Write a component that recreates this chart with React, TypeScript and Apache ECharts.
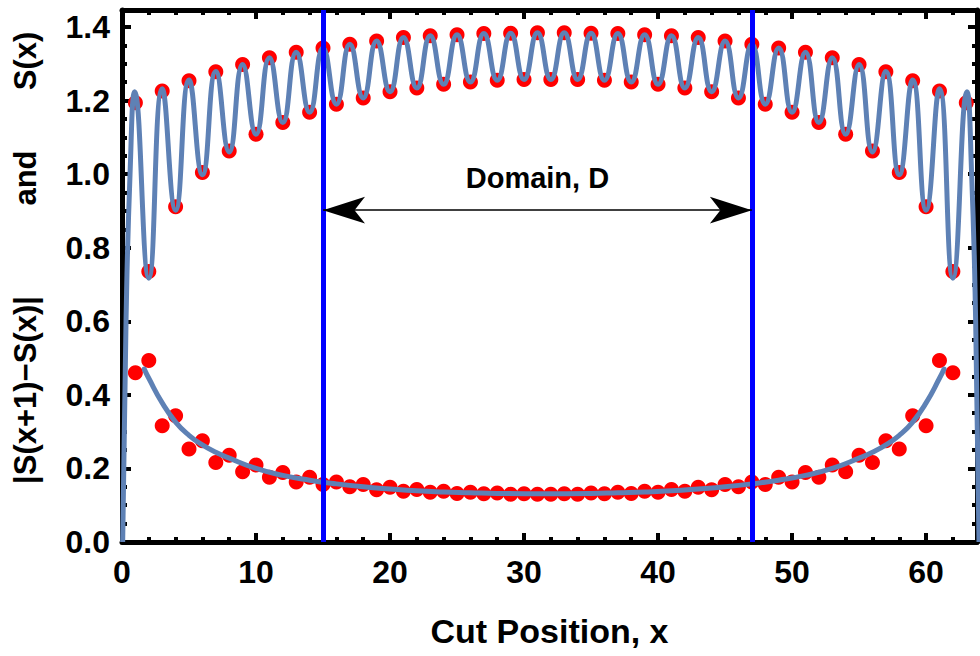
import React, { useEffect, useRef } from 'react';
import * as echarts from 'echarts';

// ---- data ----
const S_X = [1, 2, 3, 4, 5, 6, 7, 8, 9, 10, 11, 12, 13, 14, 15, 16, 17, 18, 19, 20, 21, 22, 23, 24, 25, 26, 27, 28, 29, 30, 31, 32, 33, 34, 35, 36, 37, 38, 39, 40, 41, 42, 43, 44, 45, 46, 47, 48, 49, 50, 51, 52, 53, 54, 55, 56, 57, 58, 59, 60, 61, 62, 63];
const S_VALUES = [1.194, 0.735, 1.226, 0.911, 1.254, 1.004, 1.278, 1.063, 1.298, 1.108, 1.316, 1.140, 1.331, 1.168, 1.343, 1.190, 1.353, 1.207, 1.362, 1.224, 1.371, 1.234, 1.376, 1.244, 1.379, 1.250, 1.382, 1.255, 1.383, 1.257, 1.384, 1.257, 1.384, 1.257, 1.383, 1.255, 1.382, 1.250, 1.379, 1.244, 1.376, 1.234, 1.371, 1.224, 1.362, 1.207, 1.353, 1.190, 1.343, 1.168, 1.331, 1.140, 1.316, 1.108, 1.298, 1.063, 1.278, 1.004, 1.254, 0.911, 1.226, 0.735, 1.194];

const D_X = [1, 2, 3, 4, 5, 6, 7, 8, 9, 10, 11, 12, 13, 14, 15, 16, 17, 18, 19, 20, 21, 22, 23, 24, 25, 26, 27, 28, 29, 30, 31, 32, 33, 34, 35, 36, 37, 38, 39, 40, 41, 42, 43, 44, 45, 46, 47, 48, 49, 50, 51, 52, 53, 54, 55, 56, 57, 58, 59, 60, 61, 62];
const D_VALUES = [0.460, 0.493, 0.316, 0.343, 0.253, 0.275, 0.216, 0.236, 0.191, 0.209, 0.176, 0.189, 0.163, 0.176, 0.156, 0.163, 0.150, 0.156, 0.142, 0.149, 0.138, 0.143, 0.135, 0.138, 0.132, 0.135, 0.131, 0.133, 0.130, 0.131, 0.130, 0.130, 0.131, 0.130, 0.133, 0.131, 0.135, 0.132, 0.138, 0.135, 0.143, 0.138, 0.149, 0.142, 0.156, 0.150, 0.163, 0.156, 0.176, 0.163, 0.189, 0.176, 0.209, 0.191, 0.236, 0.216, 0.275, 0.253, 0.343, 0.316, 0.493, 0.460];

// fitted S(x) curve (read at its peaks / troughs and at the steep ends)
const SFIT_X = [0.05, 0.3, 0.6, 0.95, 2, 3, 4, 5, 6, 7, 8, 9, 10, 11, 12, 13, 14, 15, 16, 17, 18, 19, 20, 21, 22, 23, 24, 25, 26, 27, 28, 29, 30, 31, 32, 33, 34, 35, 36, 37, 38, 39, 40, 41, 42, 43, 44, 45, 46, 47, 48, 49, 50, 51, 52, 53, 54, 55, 56, 57, 58, 59, 60, 61, 62, 63.05, 63.4, 63.7, 63.95];
const SFIT_Y = [0.0, 0.6, 1.0, 1.224, 0.717, 1.232, 0.902, 1.256, 0.998, 1.279, 1.060, 1.298, 1.108, 1.316, 1.140, 1.331, 1.168, 1.343, 1.190, 1.353, 1.207, 1.362, 1.224, 1.371, 1.234, 1.376, 1.244, 1.379, 1.250, 1.382, 1.255, 1.383, 1.257, 1.384, 1.257, 1.384, 1.257, 1.383, 1.255, 1.382, 1.250, 1.379, 1.244, 1.376, 1.234, 1.371, 1.224, 1.362, 1.207, 1.353, 1.190, 1.343, 1.168, 1.331, 1.140, 1.316, 1.108, 1.298, 1.060, 1.279, 0.998, 1.256, 0.902, 1.232, 0.717, 1.224, 1.0, 0.6, 0.0];

// fitted |S(x+1)-S(x)| curve
const DFIT_X = [1.66, 2, 3, 4, 5, 6, 7, 8, 10, 12, 14, 16, 18, 20, 22, 24, 26, 28, 31.5, 35, 37, 39, 41, 43, 45, 47, 49, 51, 53, 55, 56, 57, 58, 59, 60, 61, 61.34];
const DFIT_Y = [0.470, 0.445, 0.378, 0.326, 0.290, 0.264, 0.244, 0.228, 0.200, 0.181, 0.168, 0.158, 0.150, 0.144, 0.139, 0.136, 0.134, 0.132, 0.131, 0.132, 0.134, 0.136, 0.139, 0.144, 0.150, 0.158, 0.168, 0.181, 0.200, 0.228, 0.244, 0.264, 0.290, 0.326, 0.378, 0.445, 0.470];

const DOMAIN_BOUNDS = [15, 47];
const ARROW_Y = 0.902;
const DOMAIN_LABEL = 'Domain, D';
const DOMAIN_LABEL_POS = [31, 0.99];

const X_TITLE = 'Cut Position, x';
const Y_TITLE_PARTS = ['|S(x+1)\u2212S(x)|', 'and', 'S(x)'];

const FONT = '"Liberation Sans", Arial, Helvetica, sans-serif';
const BLUE_FIT = '#5E81B5';

function isMultiple(v: number, step: number) {
  const r = v / step;
  return Math.abs(r - Math.round(r)) < 1e-6;
}

function frameAxis(extra: any) {
  return {
    type: 'value',
    axisLine: { show: true, onZero: false, lineStyle: { color: '#000', width: 5 } },
    axisTick: { show: true, inside: true, length: 9, lineStyle: { color: '#000', width: 4 } },
    minorTick: { show: true, length: 5, lineStyle: { color: '#000', width: 4 } },
    splitLine: { show: false },
    minorSplitLine: { show: false },
    ...extra,
  };
}

export default function App() {
  const ref = useRef<HTMLDivElement>(null);

  useEffect(() => {
    document.body.style.margin = '0';
    const chart = echarts.init(ref.current!, null, { renderer: 'svg' });

    const xLabel = {
      show: true,
      margin: 14,
      color: '#000',
      fontFamily: FONT,
      fontWeight: 'bold',
      fontSize: 32,
      formatter: (v: number) => (isMultiple(v, 10) ? String(Math.round(v)) : ''),
    };
    const yLabel = {
      show: true,
      margin: 12,
      color: '#000',
      fontFamily: FONT,
      fontWeight: 'bold',
      fontSize: 32,
      formatter: (v: number) => (isMultiple(v, 0.2) ? v.toFixed(1) : ''),
    };

    const xBase = { min: 0, max: 63.8, interval: 10, minorTick: { show: true, splitNumber: 5, length: 5, lineStyle: { color: '#000', width: 4 } } };
    const yBase = { min: 0, max: 1.446, interval: 0.2, minorTick: { show: true, splitNumber: 4, length: 5, lineStyle: { color: '#000', width: 4 } } };

    const option: any = {
      animation: false,
      backgroundColor: '#fff',
      grid: { left: 122, right: 3, top: 10, bottom: 114, containLabel: false },
      xAxis: [
        frameAxis({
          ...xBase,
          position: 'bottom',
          axisLabel: xLabel,
          name: X_TITLE,
          nameLocation: 'middle',
          nameGap: 72,
          nameTextStyle: { color: '#000', fontFamily: FONT, fontWeight: 'bold', fontSize: 34 },
        }),
        frameAxis({ ...xBase, position: 'top', axisLabel: { show: false } }),
      ],
      yAxis: [
        frameAxis({ ...yBase, position: 'left', axisLabel: yLabel }),
        frameAxis({ ...yBase, position: 'right', axisLabel: { show: false } }),
      ],
      graphic: [
        {
          type: 'text', x: 25, y: 390, rotation: Math.PI / 2,
          style: { text: Y_TITLE_PARTS[0], font: `bold 31px ${FONT}`, fill: '#000', align: 'center', verticalAlign: 'middle' },
        },
        {
          type: 'text', x: 25, y: 178, rotation: Math.PI / 2,
          style: { text: Y_TITLE_PARTS[1], font: `bold 31px ${FONT}`, fill: '#000', align: 'center', verticalAlign: 'middle' },
        },
        {
          type: 'text', x: 25, y: 61, rotation: Math.PI / 2,
          style: { text: Y_TITLE_PARTS[2], font: `bold 31px ${FONT}`, fill: '#000', align: 'center', verticalAlign: 'middle' },
        },
      ],
      series: [
        {
          name: 'diff points',
          type: 'scatter',
          data: D_X.map((x, i) => [x, D_VALUES[i]]),
          symbol: 'circle',
          symbolSize: 15,
          itemStyle: { color: '#FF0000', opacity: 1 },
          z: 2,
        },
        {
          name: 'S points',
          type: 'scatter',
          data: S_X.map((x, i) => [x, S_VALUES[i]]),
          symbol: 'circle',
          symbolSize: 15,
          itemStyle: { color: '#FF0000', opacity: 1 },
          z: 2,
        },
        {
          name: 'diff fit',
          type: 'line',
          data: DFIT_X.map((x, i) => [x, DFIT_Y[i]]),
          smooth: true,
          showSymbol: false,
          symbol: 'none',
          lineStyle: { color: BLUE_FIT, width: 5, cap: 'round' },
          z: 3,
        },
        {
          name: 'S fit',
          type: 'line',
          data: SFIT_X.map((x, i) => [x, SFIT_Y[i]]),
          smooth: true,
          showSymbol: false,
          symbol: 'none',
          lineStyle: { color: BLUE_FIT, width: 5, join: 'round' },
          z: 3,
        },
        {
          name: 'domain',
          type: 'scatter',
          data: [DOMAIN_LABEL_POS],
          symbol: 'circle',
          symbolSize: 1,
          itemStyle: { color: '#ffffff', opacity: 1 },
          label: {
            show: true,
            position: 'inside',
            formatter: DOMAIN_LABEL,
            color: '#000000',
            opacity: 1,
            fontFamily: FONT,
            fontWeight: 'bold',
            fontSize: 29,
          },
          z: 5,
          markLine: {
            silent: true,
            symbol: 'none',
            label: { show: false },
            emphasis: { disabled: true },
            data: [
              ...DOMAIN_BOUNDS.map((b) => ({ xAxis: b, lineStyle: { color: '#0000FF', width: 5, type: 'solid', opacity: 1 } })),
              [
                { coord: [DOMAIN_BOUNDS[0], ARROW_Y], symbol: 'arrow', symbolSize: [20, 42], lineStyle: { color: '#000', width: 1.6, type: 'solid', opacity: 1 }, itemStyle: { color: '#000' } },
                { coord: [DOMAIN_BOUNDS[1], ARROW_Y], symbol: 'arrow', symbolSize: [20, 42], itemStyle: { color: '#000' } },
              ],
            ],
          },
        },
      ],
    };

    chart.setOption(option);
    return () => chart.dispose();
  }, []);

  return <div ref={ref} style={{ width: 980, height: 656 }} />;
}
